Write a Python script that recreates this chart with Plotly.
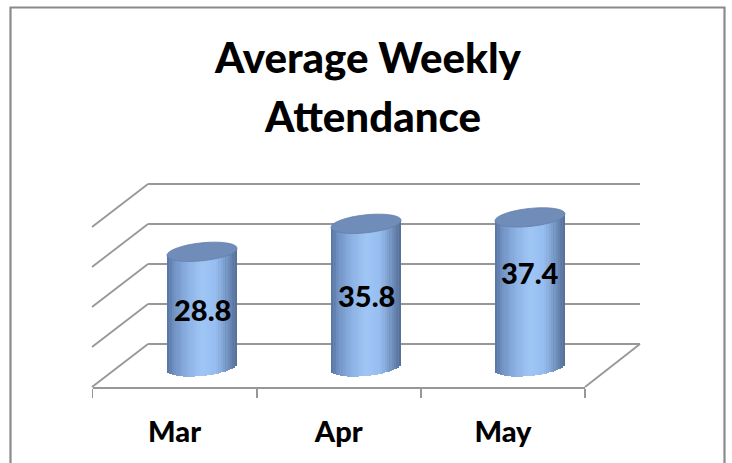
import numpy as np
import plotly.graph_objects as go

# ---------------- data ----------------
categories = ["Mar", "Apr", "May"]
attendance = [28.8, 35.8, 37.4]
grid_values = [0, 10, 20, 30, 40]
title_lines = ["Average Weekly", "Attendance"]

# ---------------- style / geometry ----------------
W, H = 732, 463
FONT = "Lato"
WEIGHT = 900
GRID = "#979797"
PX_PER_UNIT = 4.0           # 10 units per 40 px
CAT_W = 164.0               # px per category
BACK_L, BACK_R, BACK_ZERO = 148, 640, 344
FRONT_L, FRONT_R, FRONT_Y = 92.5, 585, 387
MID_ZERO = 367
MID_FIRST = 202
CYL_HALF_PX = 35
CAP_RY_PX = 9
TILT = -3.5 / 35            # px of vertical shift per px of horizontal offset
N_STRIPS = 30
label_yshift = [0, 0, 20]

stops = [(0.00, (86, 115, 162)), (0.10, (112, 146, 195)), (0.28, (138, 175, 225)),
         (0.50, (160, 198, 246)), (0.70, (150, 189, 239)), (0.86, (116, 148, 194)),
         (1.00, (84, 108, 148))]


def grad(f):
    for (a, ca), (b, cb) in zip(stops[:-1], stops[1:]):
        if a <= f <= b:
            u = (f - a) / (b - a)
            c = [round(ca[k] + (cb[k] - ca[k]) * u) for k in range(3)]
            return "rgb(%d,%d,%d)" % tuple(c)
    return "rgb(%d,%d,%d)" % stops[-1][1]


def yrange(zero_px):
    return [-(H - zero_px) / PX_PER_UNIT, zero_px / PX_PER_UNIT]


fig = go.Figure()

# back-wall subplot (x, y) - carries the gridlines
fig.add_trace(go.Scatter(x=[0.5], y=[0], mode="markers", marker=dict(opacity=0),
                         xaxis="x", yaxis="y", hoverinfo="skip", showlegend=False))

# cylinders (x2, y2)
half = CYL_HALF_PX / CAT_W
sw = 2 * half / N_STRIPS
vals = np.array(attendance)
for j in range(N_STRIPS):
    t = -1 + (2 * j + 1) / N_STRIPS
    s = np.sqrt(max(0.0, 1 - t * t))
    rim_px = CAP_RY_PX * s + TILT * t * CYL_HALF_PX
    base = -rim_px / PX_PER_UNIT
    top_extra = -(TILT * t * CYL_HALF_PX) / PX_PER_UNIT
    fig.add_trace(go.Bar(
        x=categories, y=vals + top_extra - base, base=base,
        offset=-half + j * sw, width=sw * 1.15,
        marker=dict(color=grad((j + 0.5) / N_STRIPS), line=dict(width=0)),
        xaxis="x2", yaxis="y2", hoverinfo="skip", showlegend=False))

# front axis subplot (x3, y3)
fig.add_trace(go.Scatter(x=categories, y=[0, 0, 0], mode="markers", marker=dict(opacity=0),
                         xaxis="x3", yaxis="y3", hoverinfo="skip", showlegend=False))

shapes = []
# top caps: tilted ellipses
th = np.linspace(0, 2 * np.pi, 73)
for i, v in enumerate(attendance):
    dx = CYL_HALF_PX * np.cos(th)
    dy = CAP_RY_PX * np.sin(th) + TILT * dx
    xs = i + dx / CAT_W
    ys = v - dy / PX_PER_UNIT
    path = "M " + " L ".join("%.5f,%.5f" % (a, b) for a, b in zip(xs, ys)) + " Z"
    shapes.append(dict(type="path", xref="x2", yref="y2", path=path,
                       fillcolor="rgb(112,140,185)", line=dict(color="rgb(100,127,170)", width=0.8),
                       layer="above"))
# left wall diagonals
dx_paper_back = BACK_L / W
dx_paper_front = (BACK_L - 56) / W
depth_units = (FRONT_Y - BACK_ZERO) / PX_PER_UNIT
for g in grid_values:
    shapes.append(dict(type="line", xref="paper", yref="y",
                       x0=dx_paper_back, y0=g, x1=dx_paper_front, y1=g - depth_units,
                       line=dict(color=GRID, width=1.8), layer="below"))
# floor right edge
shapes.append(dict(type="line", xref="paper", yref="y",
                   x0=BACK_R / W, y0=grid_values[0], x1=FRONT_R / W, y1=grid_values[0] - depth_units,
                   line=dict(color=GRID, width=1.8), layer="below"))
# outer chart border
shapes.append(dict(type="rect", xref="paper", yref="paper",
                   x0=10.5 / W, x1=724.5 / W, y0=-0.1, y1=(H - 7.5) / H,
                   line=dict(color="#8a8a8a", width=2.2), fillcolor="rgba(0,0,0,0)", layer="above"))

annotations = []
for i, v in enumerate(attendance):
    annotations.append(dict(x=i, y=v / 2, xref="x2", yref="y2", text="%.1f" % v,
                            showarrow=False, yshift=label_yshift[i],
                            font=dict(family=FONT, size=29, color="black", weight=WEIGHT)))
title_centers_px = [(368, 57), (373, 116)]
for line, (cx, cy) in zip(title_lines, title_centers_px):
    annotations.append(dict(x=cx / W, y=(H - cy) / H, xref="paper", yref="paper",
                            text=line, showarrow=False, xanchor="center", yanchor="middle",
                            font=dict(family=FONT, size=42, color="black", weight=WEIGHT)))

fig.update_layout(
    width=W, height=H, margin=dict(l=0, r=0, t=0, b=0),
    paper_bgcolor="white", plot_bgcolor="rgba(0,0,0,0)",
    barmode="overlay", bargap=0, showlegend=False, hovermode=False,
    shapes=shapes, annotations=annotations,
    xaxis=dict(domain=[BACK_L / W, BACK_R / W], range=[0, 1], visible=False, fixedrange=True),
    yaxis=dict(domain=[0, 1], range=yrange(BACK_ZERO), tickvals=grid_values, showgrid=True,
               gridcolor=GRID, gridwidth=1.8, showticklabels=False, zeroline=False,
               showline=False, ticks="", fixedrange=True),
    xaxis2=dict(domain=[0, 1], type="category", categoryarray=categories,
                range=[-MID_FIRST / CAT_W, (W - MID_FIRST) / CAT_W], visible=False,
                anchor="y2", fixedrange=True),
    yaxis2=dict(domain=[0, 1], range=yrange(MID_ZERO), visible=False, anchor="x2",
                fixedrange=True),
    xaxis3=dict(domain=[FRONT_L / W, FRONT_R / W], type="category", categoryarray=categories,
                range=[-0.5, 2.5], anchor="y3", tickson="boundaries", ticks="outside",
                ticklen=9, tickwidth=1.8, tickcolor=GRID, showline=True, linecolor=GRID,
                linewidth=1.8, showgrid=False, zeroline=False, ticklabelstandoff=18,
                tickfont=dict(family=FONT, size=29, color="black", weight=WEIGHT),
                fixedrange=True),
    yaxis3=dict(domain=[(H - FRONT_Y) / H, 1], range=[0, 1], visible=False, anchor="x3",
                fixedrange=True),
)

fig.write_html("out.html", config={"displayModeBar": False, "staticPlot": True},
               post_script="document.body.style.margin='0';")
